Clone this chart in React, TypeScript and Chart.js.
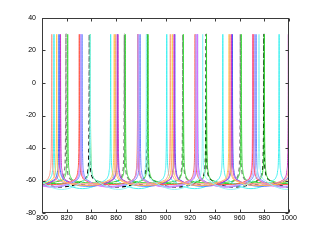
import React, { useEffect, useRef } from "react";
import { Chart, registerables } from "chart.js";

Chart.register(...registerables);

// Axis ticks
const X_TICKS = [800, 820, 840, 860, 880, 900, 920, 940, 960, 980, 1000];
const Y_TICKS = [-80, -60, -40, -20, 0, 20, 40];

// Spike times (ms), per trace (first/last entries lie outside the view)
const spikesCyan = [764, 809.7, 855.6, 901, 946.4, 992, 1038];
const spikesLightCyan = [793, 839, 884.5, 930.1, 975.7, 1021];
const spikesSalmon = [761, 807.9, 859.7, 903.9, 952.3, 1000.5];
const spikesYellow = [765, 811.9, 858.5, 905.5, 951.5, 1003];
const spikesBlue = [767, 813.8, 861, 907.5, 954.2, 1002];
const spikesRed = [784, 830.2, 877.5, 924, 971, 1018];
const spikesMagenta = [785, 831, 878, 925.5, 970.6, 1017];
const spikesBlue2 = [786, 832.4, 879.4, 926, 973.3, 1020];
const spikesPurple = [785, 831.5, 877.8, 924.7, 972, 1019];
const spikesDarkMagenta = [768, 815, 861.5, 907, 953.5, 999.5];
const spikesGrayDash = [773, 819.4, 866.7, 914, 960.6, 1007];
const spikesGreen = [774, 820.8, 867.5, 914.5, 961.4, 1008];
const spikesBlackDash = [792, 838.3, 885, 932.8, 979.6, 1026];
const spikesGreen2 = [793, 839.1, 885.8, 933.2, 980, 1027];

// Trough depth (mV) between spikes, per trace
const troughCyan = -65;
const troughLightCyan = -65.5;
const troughSalmon = -62;
const troughYellow = -63;
const troughBlue = -63.5;
const troughRed = -62.5;
const troughMagenta = -64;
const troughBlue2 = -64;
const troughPurple = -63.5;
const troughDarkMagenta = -63;
const troughGrayDash = -63;
const troughGreen = -61.5;
const troughBlackDash = -64;
const troughGreen2 = -62;

// Spike waveform (offset from spike time in ms, voltage in mV)
const RISE_OFFSETS = [-5, -2.5, -1.2, -0.5, -0.2, -0.06, 0];
const RISE_VALUES = [-60, -58, -54, -45, -25, 0, 30];
const FALL_OFFSETS = [0.06, 0.2, 0.5, 1.2, 2.5, 5];
const FALL_VALUES = [0, -25, -45, -54, -58, -60];

type Trace = { spikes: number[]; trough: number; color: string; dash?: number[]; width?: number };

const TRACES: Trace[] = [
  { spikes: spikesLightCyan, trough: troughLightCyan, color: "#8ff5f5" },
  { spikes: spikesSalmon, trough: troughSalmon, color: "#ff9a88" },
  { spikes: spikesYellow, trough: troughYellow, color: "#ffc94a" },
  { spikes: spikesPurple, trough: troughPurple, color: "#b4a4ff" },
  { spikes: spikesDarkMagenta, trough: troughDarkMagenta, color: "#c838c8" },
  { spikes: spikesRed, trough: troughRed, color: "#ff5a4a" },
  { spikes: spikesMagenta, trough: troughMagenta, color: "#ff6cff" },
  { spikes: spikesBlue, trough: troughBlue, color: "#3f5cff" },
  { spikes: spikesBlue2, trough: troughBlue2, color: "#6a86ff" },
  { spikes: spikesCyan, trough: troughCyan, color: "#3ff0f0" },
  { spikes: spikesGreen, trough: troughGreen, color: "#3fdc3f" },
  { spikes: spikesGreen2, trough: troughGreen2, color: "#2ecf2e" },
  { spikes: spikesGrayDash, trough: troughGrayDash, color: "#808080", dash: [4, 3], width: 1.3 },
  { spikes: spikesBlackDash, trough: troughBlackDash, color: "#000000", dash: [4, 3], width: 1.1 },
];

function buildPoints(spikes: number[], trough: number) {
  const pts: { x: number; y: number }[] = [];
  for (let i = 0; i < spikes.length; i++) {
    const ts = spikes[i];
    RISE_OFFSETS.forEach((o, k) => pts.push({ x: ts + o, y: RISE_VALUES[k] }));
    FALL_OFFSETS.forEach((o, k) => pts.push({ x: ts + o, y: FALL_VALUES[k] }));
    if (i < spikes.length - 1) {
      pts.push({ x: (ts + spikes[i + 1]) / 2, y: trough });
    }
  }
  return pts;
}

const L = 42, R = 289, T = 18, B = 213;

const boxPlugin = {
  id: "matlabBox",
  afterDraw(chart: any) {
    const { ctx, chartArea, scales } = chart;
    const { left, right, top, bottom } = chartArea;
    ctx.save();
    ctx.strokeStyle = "#3a3a3a";
    ctx.lineWidth = 1;
    const l = Math.round(left) + 0.5, r = Math.round(right) - 0.5;
    const t = Math.round(top) + 0.5, b = Math.round(bottom) - 0.5;
    ctx.strokeRect(l, t, r - l, b - t);
    ctx.beginPath();
    const tl = 3;
    X_TICKS.forEach((v) => {
      const px = Math.round(scales.x.getPixelForValue(v)) + 0.5;
      ctx.moveTo(px, b); ctx.lineTo(px, b - tl);
      ctx.moveTo(px, t); ctx.lineTo(px, t + tl);
    });
    Y_TICKS.forEach((v) => {
      const py = Math.round(scales.y.getPixelForValue(v)) + 0.5;
      ctx.moveTo(l, py); ctx.lineTo(l + tl, py);
      ctx.moveTo(r, py); ctx.lineTo(r - tl, py);
    });
    ctx.stroke();
    ctx.restore();
  },
};

export default function App() {
  const ref = useRef<HTMLCanvasElement>(null);
  useEffect(() => {
    if (!ref.current) return;
    const font = { family: "'Liberation Sans', Arial, sans-serif", size: 7 };
    const chart = new Chart(ref.current, {
      type: "line",
      data: {
        datasets: TRACES.map((tr) => ({
          data: buildPoints(tr.spikes, tr.trough),
          borderColor: tr.color,
          borderWidth: tr.width ?? 1,
          borderDash: tr.dash ?? [],
          pointRadius: 0,
          fill: false,
          cubicInterpolationMode: "monotone" as const,
        })),
      },
      options: {
        animation: false,
        responsive: false,
        events: [],
        layout: { padding: { top: T, right: 319 - R, left: 0, bottom: 0 } },
        plugins: { legend: { display: false }, tooltip: { enabled: false } },
        scales: {
          x: {
            type: "linear",
            min: 800,
            max: 1000,
            afterFit: (s: any) => { s.height = 240 - B; },
            afterBuildTicks: (s: any) => { s.ticks = X_TICKS.map((v) => ({ value: v })); },
            grid: { display: false, drawTicks: false },
            border: { display: false },
            ticks: {
              font, color: "#000", padding: 1, maxRotation: 0, autoSkip: false,
              callback: (v: any) => String(v),
            },
          },
          y: {
            type: "linear",
            min: -80,
            max: 40,
            afterFit: (s: any) => { s.width = L; },
            afterBuildTicks: (s: any) => { s.ticks = Y_TICKS.map((v) => ({ value: v })); },
            grid: { display: false, drawTicks: false },
            border: { display: false },
            ticks: { font, color: "#000", padding: 6, autoSkip: false, callback: (v: any) => String(v) },
          },
        },
      },
      plugins: [boxPlugin],
    });
    return () => chart.destroy();
  }, []);
  return (
    <div style={{ position: "fixed", left: 0, top: 0, width: 319, height: 240, background: "#fff" }}>
      <canvas ref={ref} width={319} height={240} />
    </div>
  );
}
